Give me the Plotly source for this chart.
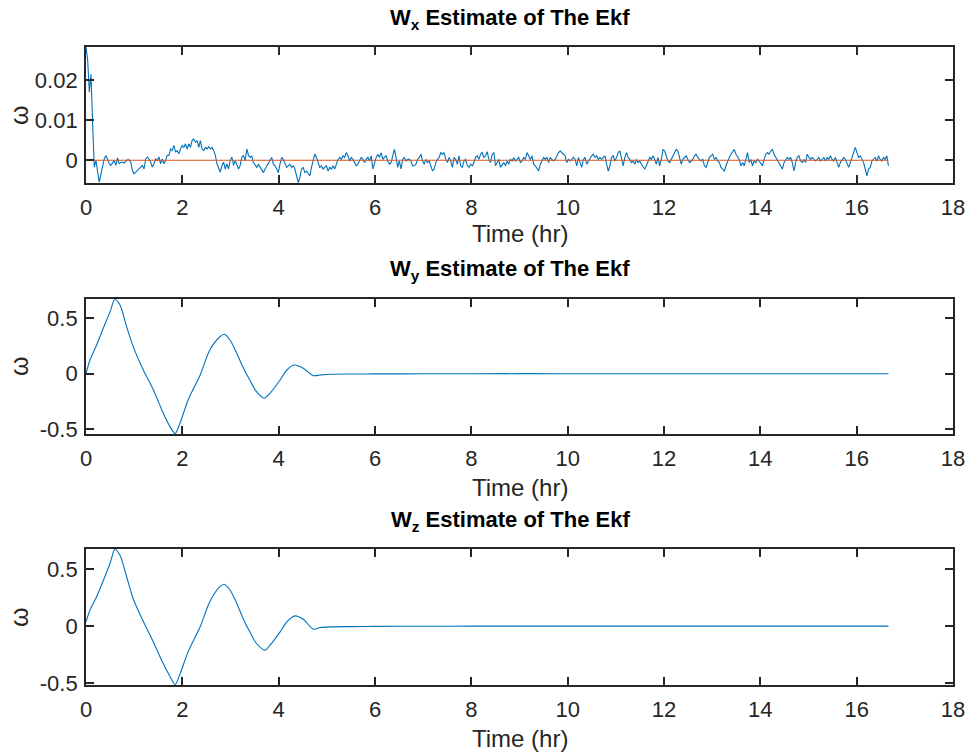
import numpy as np
import plotly.graph_objects as go

# ---------------- data ----------------
T_END = 16.66  # hr, end of record

# Wx estimate (units of 1e-4), uniformly sampled from 0 to T_END
wx_e4 = [
    283,
    250, 170, 215, 90, -17, -1, -30, -55, -35, -17, 3, 12, 0, -9, -13, -5, -1, -13, 6, -9,
    -5, -5, -7, -3, 1, 1, -5, -26, -34, -30, -26, -20, -17, -13, -22, 3, 8, 3, -5, -17,
    -9, 3, -1, 8, -9, 3, -9, -1, 12, 12, 28, 24, 37, 20, 24, 16, 28, 37, 32, 41,
    28, 41, 32, 49, 53, 45, 49, 32, 49, 28, 24, 32, 28, 34, 28, 32, 24, 12, -9, -22,
    -30, -13, -5, -22, -9, -22, -1, 8, -13, -1, -13, -22, -13, 8, 12, -1, 28, 12,
    # segment 2
    7, 11, -6, -12, -18, -10, -18, -22, -31, -22, -14, -6, 2, 7, -10, -14, -22, -31, -10, 7,
    2, -6, -18, -14, -10, -18, -14, -22, -39, -56, -43, -22, -18, -31, -27, -35, -39, -18, 2, 15,
    7, -6, -18, -14, -22, -18, -14, -27, -18, -22, -14, -22, -10, 2, 7, 2, 11, 7, 19, 11,
    -2, 7, 2, -6, -14, -10, -2, 7, 2, -6, 2, 7, -2, 11, -22, -6, 7, 15, 7, 19,
    2, 7, 11, -2, -10, -6, 11, 27, 7, -18, -2, -22, 2, 7, -2, 2, 2, -2, -14,
    # segment 3
    -14, -10, 2, 7, 15, -2, -10, 2, -6, -2, -14, -27, -22, -6, 2, 7, 19, 15, 19, 2,
    -6, 7, -2, -18, 7, 2, -10, 11, -14, -18, -2, 2, -14, -18, -10, -14, -6, 7, 11, 2,
    15, 19, 7, 11, 21, 2, -6, 15, 19, -14, -6, 2, -18, -10, -6, -14, -2, -10, 2, -2,
    7, -2, 2, 7, -6, -2, 7, 2, 19, 11, 2, 11, -10, -14, -22, -27, -10, -2, 7, 2,
    7, -6, 7, 2, -2, 2, 11, 19, 23, 19, 15, 11, -6, 2, -2, 2, 7, 2, -14,
    # segment 4
    7, -6, -18, 2, 7, -10, -2, 7, 11, 15, 7, 11, 2, 7, 2, 7, 11, -10, -27, -14,
    7, 11, -2, 7, 19, 23, 2, -14, 7, 19, 7, 2, -6, -2, -10, 2, -6, -2, -10, -18,
    -22, -14, -2, 7, 2, 11, 2, -10, 7, -14, 2, 27, 23, 11, -2, -6, 2, 7, 15, 27,
    23, 7, -10, 2, 7, 11, 2, -6, -2, 2, 11, 15, 7, 2, -2, 2, -14, -18, -6, 7,
    11, 15, 2, 7, -2, -6, -18, -22, -27, -14, -2, 7, 15, 23, 27, 15, 7, 2, -14,
    # segment 5
    -6, -14, 2, 19, -6, 2, -14, -2, -6, 2, -2, -10, -14, 2, 15, 19, 15, 23, 27, 15,
    7, 2, -6, -14, -22, -6, 2, 7, 2, 7, -6, -27, -6, 7, 11, -2, -6, 2, -6, 15,
    7, 2, 7, 2, -2, 2, 7, -2, 2, 7, -2, 7, 2, 11, 2, -2, 7, -6, -18, -6,
    2, 7, 2, -10, -18, -6, 7, 15, 32, 19, 7, 11, 2, -6, -22, -39, -22, -18, -2, 2,
    7, -2, 11, 2, -2, 7, 2, 11, -14,
]
wx_t = np.linspace(0, T_END, len(wx_e4))
wx = [v * 1e-4 for v in wx_e4]
ref_t = [0, T_END]
ref_v = [0, 0]

# Wy estimate
wy_t = [0, 0.083, 0.22, 0.36, 0.50, 0.60, 0.706, 0.845, 0.98, 1.19, 1.40, 1.605, 1.744, 1.85,
        1.95, 2.12, 2.37, 2.57, 2.78, 2.87, 2.99, 3.13, 3.27, 3.40, 3.54, 3.70, 3.82, 4.03,
        4.17, 4.32, 4.51, 4.72, 4.86, 5.07, 5.5, 6, 7, 8, 10, 12, 14, T_END]
wy_v = [0, 0.123, 0.258, 0.41, 0.557, 0.668, 0.617, 0.42, 0.243, 0.033, -0.146, -0.356, -0.476, -0.538,
        -0.446, -0.236, -0.012, 0.213, 0.332, 0.354, 0.303, 0.183, 0.049, -0.057, -0.162, -0.221, -0.176, -0.057,
        0.033, 0.078, 0.049, -0.018, -0.012, -0.005, -0.003, -0.002, -0.001, 0, 0, 0, 0, 0]

# Wz estimate
wz_t = [0, 0.083, 0.22, 0.36, 0.50, 0.60, 0.706, 0.845, 0.98, 1.19, 1.40, 1.605, 1.744, 1.85,
        1.95, 2.12, 2.37, 2.57, 2.78, 2.87, 2.99, 3.13, 3.27, 3.40, 3.54, 3.72, 3.82, 4.03,
        4.17, 4.34, 4.51, 4.72, 4.86, 5.07, 5.5, 6, 7, 8, 10, 12, 14, T_END]
wz_v = [0.038, 0.14, 0.257, 0.40, 0.55, 0.672, 0.62, 0.43, 0.24, 0.04, -0.14, -0.33, -0.44, -0.512,
        -0.42, -0.225, -0.006, 0.213, 0.345, 0.366, 0.316, 0.199, 0.059, -0.05, -0.152, -0.21, -0.167, -0.05,
        0.038, 0.09, 0.06, -0.026, -0.012, -0.006, -0.004, -0.002, -0.001, 0, 0, 0, 0, 0]

x_ticks = [0, 2, 4, 6, 8, 10, 12, 14, 16, 18]
wx_ticks = [0, 0.01, 0.02]
wx_ticktext = ["0", "0.01", "0.02"]
wyz_ticks = [-0.5, 0, 0.5]
wyz_ticktext = ["-0.5", "0", "0.5"]

titles = ["<b>W<sub>x</sub> Estimate of The Ekf</b>",
          "<b>W<sub>y</sub> Estimate of The Ekf</b>",
          "<b>W<sub>z</sub> Estimate of The Ekf</b>"]

# ---------------- figure ----------------
W, H = 969, 754
BLUE = "#0072BD"
ORANGE = "#D95319"
AX = "#262626"
FONT = "Liberation Sans, Arial, sans-serif"

x_dom = [86 / W, 953 / W]
panels_px = [(47, 183), (299, 434), (549, 685)]  # top, bottom in px
y_doms = [[1 - b / H, 1 - t / H] for t, b in panels_px]

fig = go.Figure()
fig.add_trace(go.Scatter(x=wx_t, y=wx, mode="lines", line=dict(color=BLUE, width=1.1),
                         xaxis="x", yaxis="y", showlegend=False))
fig.add_trace(go.Scatter(x=ref_t, y=ref_v, mode="lines", line=dict(color=ORANGE, width=1.1),
                         xaxis="x", yaxis="y", showlegend=False))
fig.add_trace(go.Scatter(x=wy_t, y=wy_v, mode="lines", line=dict(color=BLUE, width=1.1, shape="spline", smoothing=0.8),
                         xaxis="x2", yaxis="y2", showlegend=False))
fig.add_trace(go.Scatter(x=wz_t, y=wz_v, mode="lines", line=dict(color=BLUE, width=1.1, shape="spline", smoothing=0.8),
                         xaxis="x3", yaxis="y3", showlegend=False))

common = dict(showline=True, linecolor=AX, linewidth=1.8, mirror="ticks",
              ticks="inside", ticklen=8, tickwidth=1.8, tickcolor=AX,
              showgrid=False, zeroline=False, automargin=False,
              tickfont=dict(family=FONT, size=22, color=AX), fixedrange=True)

layout = dict(template="none", width=W, height=H, margin=dict(l=0, r=0, t=0, b=0, pad=0),
              paper_bgcolor="white", plot_bgcolor="white", showlegend=False)

yranges = [[-0.0057, 0.0283], [-0.542, 0.671], [-0.515, 0.675]]
yticks = [(wx_ticks, wx_ticktext), (wyz_ticks, wyz_ticktext), (wyz_ticks, wyz_ticktext)]
for i in range(3):
    sx = "" if i == 0 else str(i + 1)
    layout["xaxis" + sx] = dict(common, domain=x_dom, range=[0, 18], tickvals=x_ticks,
                                anchor="y" + sx, ticklabelstandoff=4)
    layout["yaxis" + sx] = dict(common, domain=y_doms[i], range=yranges[i],
                                tickvals=yticks[i][0], ticktext=yticks[i][1],
                                anchor="x" + sx, ticklabelstandoff=2)

annotations = []
title_y = [19, 270, 521]
time_y = [233, 487, 738]
omega_y = [115, 366, 617]
xc = 510 / W
for i in range(3):
    annotations.append(dict(text=titles[i], x=xc, y=1 - title_y[i] / H, xref="paper", yref="paper",
                            xanchor="center", yanchor="middle", showarrow=False,
                            font=dict(family=FONT, size=22, color="black")))
    annotations.append(dict(text="Time (hr)", x=519.5 / W, y=1 - time_y[i] / H, xref="paper", yref="paper",
                            xanchor="center", yanchor="middle", showarrow=False,
                            font=dict(family=FONT, size=24, color=AX)))
    annotations.append(dict(text="ω", x=19 / W, y=1 - omega_y[i] / H, xref="paper", yref="paper",
                            xanchor="center", yanchor="middle", showarrow=False, textangle=-90,
                            font=dict(family=FONT, size=25, color=AX)))
layout["annotations"] = annotations

fig.update_layout(layout)
fig.write_html("out.html")
